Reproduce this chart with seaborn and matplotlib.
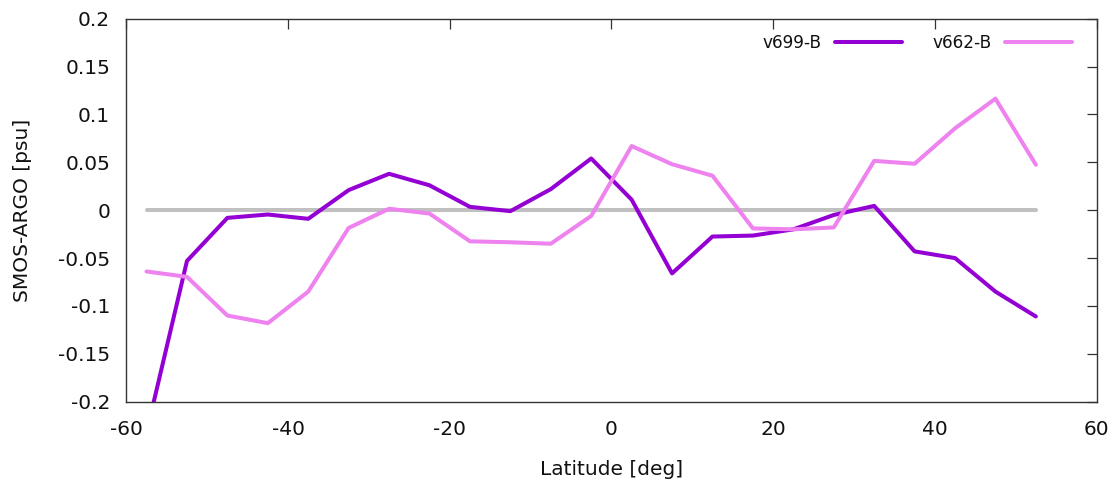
import numpy as np
import pandas as pd
import matplotlib
matplotlib.use("Agg")
import matplotlib.pyplot as plt
import seaborn as sns
from matplotlib.ticker import FormatStrFormatter, MultipleLocator

latitude = [-57.5, -52.5, -47.5, -42.5, -37.5, -32.5, -27.5, -22.5, -17.5, -12.5,
            -7.5, -2.5, 2.5, 7.5, 12.5, 17.5, 22.5, 27.5, 32.5, 37.5, 42.5, 47.5, 52.5]
v699_B = [-0.232, -0.053, -0.008, -0.0045, -0.009, 0.021, 0.038, 0.026, 0.0035, -0.001,
          0.022, 0.054, 0.011, -0.066, -0.0275, -0.0265, -0.020, -0.005, 0.0045,
          -0.043, -0.050, -0.085, -0.111]
v662_B = [-0.064, -0.0696, -0.110, -0.118, -0.085, -0.0185, 0.0015, -0.0035, -0.0325,
          -0.0335, -0.035, -0.006, 0.067, 0.048, 0.036, -0.019, -0.020, -0.018, 0.0515,
          0.0485, 0.0855, 0.1165, 0.0475]
zero_line = [0.0] * len(latitude)

sns.set_style("white")
plt.rcParams['font.family'] = ['DejaVu Sans']
plt.rcParams['axes.unicode_minus'] = False

df = pd.DataFrame({
    "lat": latitude * 3,
    "val": zero_line + v699_B + v662_B,
    "series": ["zero"] * len(latitude) + ["v699-B"] * len(latitude) + ["v662-B"] * len(latitude),
})

fig = plt.figure(figsize=(11.19, 4.82), dpi=100)
ax = fig.add_axes([0.1129, 0.1666, 0.9799 - 0.1129, 0.9612 - 0.1666])

lw = 2.9
sns.lineplot(data=df[df.series == "zero"], x="lat", y="val", color="#c0c0c0",
             linewidth=lw, ax=ax, legend=False, zorder=1)
sns.lineplot(data=df[df.series == "v699-B"], x="lat", y="val", color="#9400d3",
             linewidth=lw, ax=ax, label="v699-B", zorder=2)
sns.lineplot(data=df[df.series == "v662-B"], x="lat", y="val", color="#ee82ee",
             linewidth=lw, ax=ax, label="v662-B", zorder=2)

ax.set_xlim(-60, 60)
ax.set_ylim(-0.2, 0.2)
ax.xaxis.set_major_locator(MultipleLocator(20))
ax.yaxis.set_major_locator(MultipleLocator(0.05))
ax.yaxis.set_major_formatter(FormatStrFormatter('%g'))
ax.xaxis.set_major_formatter(FormatStrFormatter('%g'))
ax.tick_params(direction='in', length=7.2, width=0.9, color='#333333',
               top=True, right=True, labelsize=14.5, labelcolor='#111111')
ax.tick_params(axis='x', pad=13.5)
ax.tick_params(axis='y', pad=11.7)
for s in ax.spines.values():
    s.set_color('#333333')
    s.set_linewidth(1.0)
    s.set_visible(True)

ax.set_xlabel("Latitude [deg]", fontsize=14.5, color='#111111')
ax.set_ylabel("SMOS-ARGO [psu]", fontsize=14.5, color='#111111')
ax.xaxis.set_label_coords(0.5, -0.1522)
ax.yaxis.set_label_coords(-0.097, 0.5)

leg = ax.legend(loc='center right', ncol=2, frameon=False, markerfirst=False,
                fontsize=12.2, handlelength=3.96, columnspacing=1.81, handletextpad=0.77,
                borderpad=0, borderaxespad=0,
                bbox_to_anchor=(1072 / 1119, 1 - 43.3 / 482), bbox_transform=fig.transFigure)
for t in leg.get_texts():
    t.set_color('#111111')

fig.savefig("out.png", dpi=100)
